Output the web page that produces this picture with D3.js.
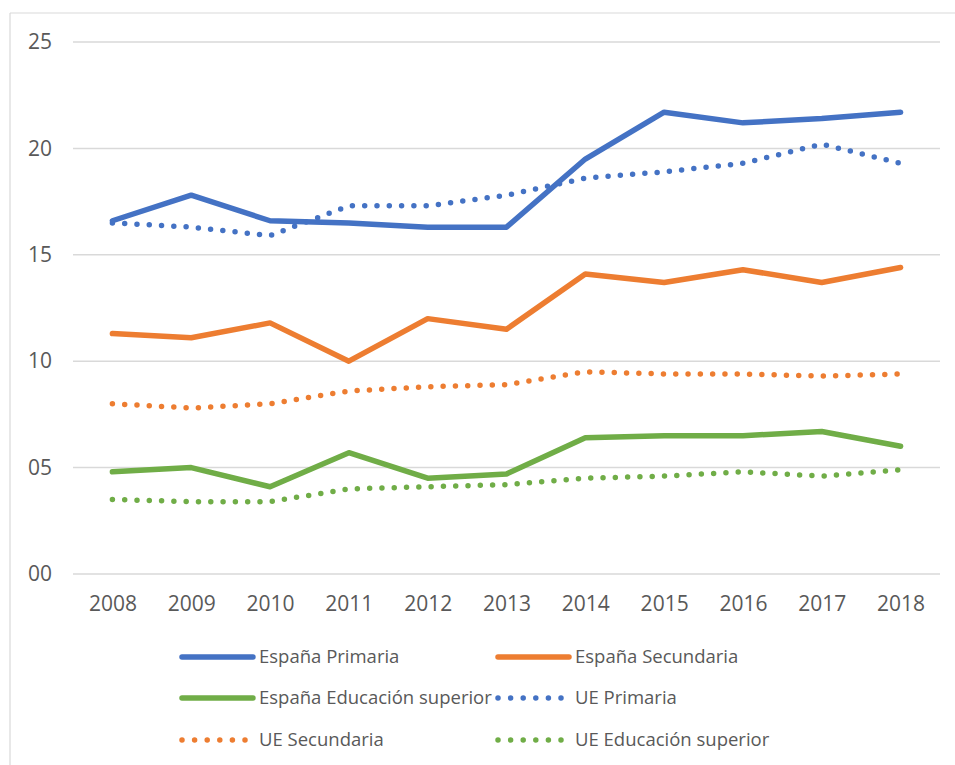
<!DOCTYPE html>
<html>
<head>
<meta charset="utf-8">
<script src="https://cdn.jsdelivr.net/npm/d3@7"></script>
<style>
  html, body { margin: 0; padding: 0; background: #fff; }
  svg text { font-family: "Open Sans", "Noto Sans", sans-serif; fill: #595959; }
</style>
</head>
<body>
<svg id="chart" width="955" height="765"></svg>
<script>
// Years on the horizontal axis
const years = ["2008","2009","2010","2011","2012","2013","2014","2015","2016","2017","2018"];

// Values per series
const espanaPrimaria   = [16.6, 17.8, 16.6, 16.5, 16.3, 16.3, 19.5, 21.7, 21.2, 21.4, 21.7];
const espanaSecundaria = [11.3, 11.1, 11.8, 10.0, 12.0, 11.5, 14.1, 13.7, 14.3, 13.7, 14.4];
const espanaSuperior   = [4.8, 5.0, 4.1, 5.7, 4.5, 4.7, 6.4, 6.5, 6.5, 6.7, 6.0];
const uePrimaria       = [16.5, 16.3, 15.9, 17.3, 17.3, 17.8, 18.6, 18.9, 19.3, 20.2, 19.3];
const ueSecundaria     = [8.0, 7.8, 8.0, 8.6, 8.8, 8.9, 9.5, 9.4, 9.4, 9.3, 9.4];
const ueSuperior       = [3.5, 3.4, 3.4, 4.0, 4.1, 4.2, 4.5, 4.6, 4.8, 4.6, 4.9];

// Y axis ticks and their labels
const yTicks = [0, 5, 10, 15, 20, 25];
const yTickLabels = ["00", "05", "10", "15", "20", "25"];

const blue = "#4472C4", orange = "#ED7D31", green = "#70AD47";

const series = [
  { name: "España Primaria", values: espanaPrimaria, color: blue, dotted: false },
  { name: "España Secundaria", values: espanaSecundaria, color: orange, dotted: false },
  { name: "España Educación superior", values: espanaSuperior, color: green, dotted: false },
  { name: "UE Primaria", values: uePrimaria, color: blue, dotted: true },
  { name: "UE Secundaria", values: ueSecundaria, color: orange, dotted: true },
  { name: "UE Educación superior", values: ueSuperior, color: green, dotted: true }
];

const svg = d3.select("#chart");

// Chart frame (top and left edges)
svg.append("line").attr("x1", 10).attr("x2", 955).attr("y1", 13).attr("y2", 13)
  .attr("stroke", "#D9D9D9").attr("stroke-width", 1.2);
svg.append("line").attr("x1", 10).attr("x2", 10).attr("y1", 13).attr("y2", 765)
  .attr("stroke", "#D9D9D9").attr("stroke-width", 1.2);

const plot = { left: 73, right: 940, top: 42, bottom: 574 };

const x = d3.scalePoint().domain(years).range([plot.left, plot.right]).padding(0.5);
const y = d3.scaleLinear().domain([0, 25]).range([plot.bottom, plot.top]);

// Horizontal gridlines
svg.append("g")
  .selectAll("line")
  .data(yTicks)
  .join("line")
  .attr("x1", plot.left).attr("x2", plot.right)
  .attr("y1", d => y(d)).attr("y2", d => y(d))
  .attr("stroke", "#D9D9D9").attr("stroke-width", 1.5);

// Y axis labels
const yAxis = d3.axisLeft(y).tickValues(yTicks)
  .tickFormat((d, i) => yTickLabels[i]).tickSize(0).tickPadding(0);
const gy = svg.append("g").attr("transform", "translate(52,0)").call(yAxis);
gy.select(".domain").remove();
gy.selectAll("text").attr("font-size", 21).style("fill", "#595959")
  .style("font-family", '"Open Sans", sans-serif');

// X axis labels
const xAxis = d3.axisBottom(x).tickSize(0).tickPadding(0);
const gx = svg.append("g").attr("transform", "translate(0,596)").call(xAxis);
gx.select(".domain").remove();
gx.selectAll("text").attr("font-size", 21).style("fill", "#595959")
  .style("font-family", '"Open Sans", sans-serif');

// Series lines
const line = d3.line().x((d, i) => x(years[i])).y(d => y(d));

svg.append("g")
  .selectAll("path")
  .data(series.slice().reverse())
  .join("path")
  .attr("d", d => line(d.values))
  .attr("fill", "none")
  .attr("stroke", d => d.color)
  .attr("stroke-width", 5.5)
  .attr("stroke-linecap", "round")
  .attr("stroke-linejoin", "round")
  .attr("stroke-dasharray", d => d.dotted ? "0 12.3" : null);

// Legend in two columns
const legendCols = [182, 498];
const legendRows = [657, 698, 740];
const legend = svg.append("g")
  .selectAll("g")
  .data(series)
  .join("g")
  .attr("transform", (d, i) => `translate(${legendCols[i % 2]},${legendRows[Math.floor(i / 2)]})`);

legend.append("line")
  .attr("x1", 0).attr("x2", d => d.dotted ? 64 : 71)
  .attr("y1", 0).attr("y2", 0)
  .attr("stroke", d => d.color)
  .attr("stroke-width", 5.5)
  .attr("stroke-linecap", "round")
  .attr("stroke-dasharray", d => d.dotted ? "0 12.6" : null);

legend.append("text")
  .attr("x", 77)
  .attr("y", 0)
  .attr("dy", "0.35em")
  .attr("font-size", 18.5)
  .text(d => d.name);
</script>
</body>
</html>
